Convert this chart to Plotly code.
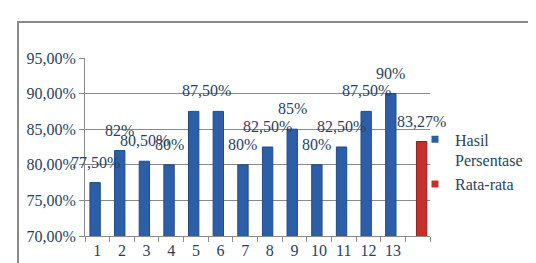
import plotly.graph_objects as go

categories = [str(i) for i in range(1, 14)]
hasil_values = [77.5, 82, 80.5, 80, 87.5, 87.5, 80, 82.5, 85, 80, 82.5, 87.5, 90]
hasil_labels = ["77,50%", "82%", "80,50%", "80%", "87,50%", "", "80%", "82,50%",
                "85%", "80%", "82,50%", "87,50%", "90%"]
rata_value = [83.27]
rata_label = ["83,27%"]
series_names = ["Hasil<br>Persentase", "Rata-rata"]
y_ticks = [70, 75, 80, 85, 90, 95]

FONT = "Liberation Serif"
FS = 16
BLUE = "#2D5FA9"
RED = "#C4302B"

W, H = 536, 263
L, R, T, B = 77, 114, 50, 25
pw, ph = W - L - R, H - T - B

xs_blue = list(range(1, len(hasil_values) + 1))
xs_red = [len(hasil_values) + 1]
bw = 0.42
off_blue = -0.30
off_red = -0.05

fig = go.Figure()
fig.add_trace(go.Bar(x=xs_blue, y=[v / 100 for v in hasil_values], width=bw, offset=off_blue,
                     marker=dict(color=BLUE, line=dict(color="#1E4A8C", width=1)),
                     showlegend=False))
fig.add_trace(go.Bar(x=xs_red, y=[v / 100 for v in rata_value], width=bw, offset=off_red,
                     marker=dict(color=RED, line=dict(color="#8E1E1A", width=1)),
                     showlegend=False))
# legend entries
for name, col in zip(series_names, [BLUE, RED]):
    fig.add_trace(go.Scatter(x=[None], y=[None], mode="markers", name=name,
                             marker=dict(symbol="square", size=7, color=col)))

label_shift = {4: 13}
for i, (xv, v, t) in enumerate(zip(xs_blue, hasil_values, hasil_labels)):
    if not t:
        continue
    fig.add_annotation(x=xv + off_blue + bw / 2, y=v / 100, text=t, showarrow=False,
                       yanchor="bottom", yshift=10, xshift=label_shift.get(i, 0),
                       font=dict(family=FONT, size=FS))
for xv, v, t in zip(xs_red, rata_value, rata_label):
    fig.add_annotation(x=xv + off_red + bw / 2, y=v / 100, text=t, showarrow=False,
                       yanchor="bottom", yshift=10,
                       font=dict(family=FONT, size=FS))

# chart border
fig.add_shape(type="rect", xref="paper", yref="paper",
              x0=(10 - L) / pw, x1=(W + 5 - L) / pw,
              y0=1 - (H + 5 - T) / ph, y1=1 - (12 - T) / ph,
              line=dict(color="#8A8A8A", width=2), layer="below")

fig.update_layout(
    width=W, height=H, margin=dict(l=L, r=R, t=T, b=B),
    paper_bgcolor="white", plot_bgcolor="white",
    separators=",.",
    barmode="overlay",
    xaxis=dict(range=[0.5, len(hasil_values) + 1.5], tickvals=xs_blue, ticktext=categories,
               showgrid=False, showline=True, linecolor="#8A8A8A", linewidth=1,
               ticks="", tickfont=dict(family=FONT, size=FS), zeroline=False,
               minor=dict(tick0=0.5, dtick=1, ticks="outside", ticklen=5,
                          tickcolor="#8A8A8A", showgrid=False)),
    yaxis=dict(range=[0.70, 0.95], tickvals=[v / 100 for v in y_ticks], tickformat=".2%",
               showgrid=True, gridcolor="#8A8A8A", gridwidth=1, showline=True,
               linecolor="#8A8A8A", ticks="outside", ticklen=5, tickcolor="#8A8A8A",
               tickfont=dict(family=FONT, size=FS), zeroline=False),
    legend=dict(x=(407 - L) / pw, y=1 - (118 - T) / ph, xanchor="left", yanchor="top",
                valign="top", bgcolor="rgba(0,0,0,0)", tracegroupgap=0,
                font=dict(family=FONT, size=FS)),
)

fig.write_html("out.html")
